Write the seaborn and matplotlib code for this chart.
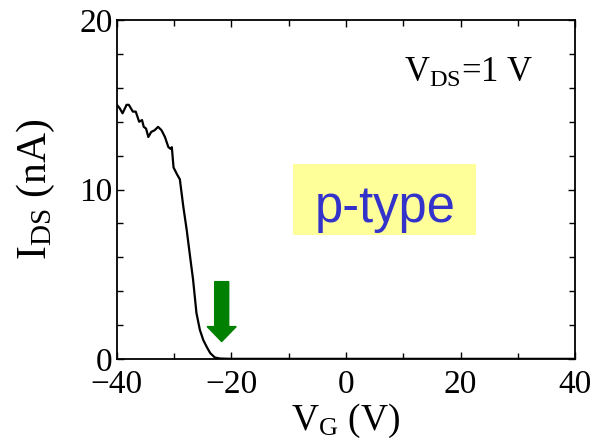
"""I_DS vs V_G transfer curve (p-type), seaborn version."""
import matplotlib
matplotlib.use("Agg")
import matplotlib.pyplot as plt
from matplotlib.patches import Rectangle
from matplotlib.ticker import MultipleLocator
import pandas as pd
import seaborn as sns

# gate voltage (V) and drain current (nA)
VG = [-40.0, -39.5, -39.0, -38.3, -37.9, -37.2, -36.7, -36.1, -35.6, -35.3,
      -34.9, -34.5, -34.0, -33.4, -32.8, -32.2, -31.6, -31.0, -30.6, -30.4,
      -30.1, -29.5, -29.0, -28.4, -27.8, -27.2, -26.7, -26.1, -25.5, -24.9,
      -24.3, -23.7, -22.9, -22.0, -20.0, 0.0, 20.0, 40.0]
IDS = [15.0, 14.8, 14.5, 15.0, 15.0, 14.6, 14.6, 14.0, 14.1, 13.7,
       13.6, 13.1, 13.4, 13.5, 13.7, 13.5, 13.1, 12.5, 12.4, 12.5,
       11.3, 10.9, 10.6, 9.0, 7.6, 6.0, 4.7, 2.7, 1.7, 1.1,
       0.7, 0.34, 0.08, 0.02, 0.0, 0.0, 0.0, 0.0]

ARROW_X = -21.7
ARROW_TOP = 4.56
ARROW_TIP = 1.02

sns.set_theme(style="ticks")
plt.rcParams["font.family"] = ["Liberation Serif", "DejaVu Serif"]
plt.rcParams["mathtext.fontset"] = "custom"
plt.rcParams["mathtext.rm"] = "Liberation Serif"
plt.rcParams["mathtext.it"] = "Liberation Serif:italic"
for key in ("text.color", "axes.labelcolor", "xtick.color", "ytick.color",
            "axes.edgecolor"):
    plt.rcParams[key] = "black"

df = pd.DataFrame({"VG": VG, "IDS": IDS})

fig = plt.figure(figsize=(5.93, 4.48), dpi=100)
ax = fig.add_axes([0.197, 0.199, 0.773, 0.756])

sns.lineplot(data=df, x="VG", y="IDS", color="black", linewidth=1.6,
             sort=False, ax=ax)

ax.set_xlim(-40, 40)
ax.set_ylim(0, 20)
ax.xaxis.set_major_locator(MultipleLocator(20))
ax.xaxis.set_minor_locator(MultipleLocator(10))
ax.yaxis.set_major_locator(MultipleLocator(10))
ax.yaxis.set_minor_locator(MultipleLocator(2))
ax.tick_params(which="both", direction="in", top=True, right=True,
               width=1.0, labelsize=24)
ax.tick_params(which="major", length=5)
ax.tick_params(which="minor", length=4.5)
ax.tick_params(axis="x", which="major", pad=8)
ax.tick_params(axis="y", which="major", pad=3)
for s in ax.spines.values():
    s.set_linewidth(1.3)

ax.set_xlabel(r"V$_{\mathrm{G}}$ (V)", fontsize=27, labelpad=1)
ax.set_ylabel(r"I$_{\mathrm{DS}}$ (nA)", fontsize=30, labelpad=16)

ax.text(21.5, 16.34, r"V$_{\mathrm{DS}}$=1 V", fontsize=25, ha="center",
        va="baseline")

ax.add_patch(Rectangle((-9.3, 7.3), 32.0, 4.2, facecolor="#ffff99",
                       edgecolor="none", zorder=1))
ax.text(6.8, 8.08, "p-type", fontsize=36.5, family="Liberation Sans",
        color="#3333cc", ha="center", va="baseline", zorder=2)

ax.arrow(ARROW_X, ARROW_TOP, 0, ARROW_TIP - ARROW_TOP, width=2.45,
         head_width=5.07, head_length=0.885, length_includes_head=True,
         color="#008000", zorder=3)

fig.savefig("out.png", dpi=100)
